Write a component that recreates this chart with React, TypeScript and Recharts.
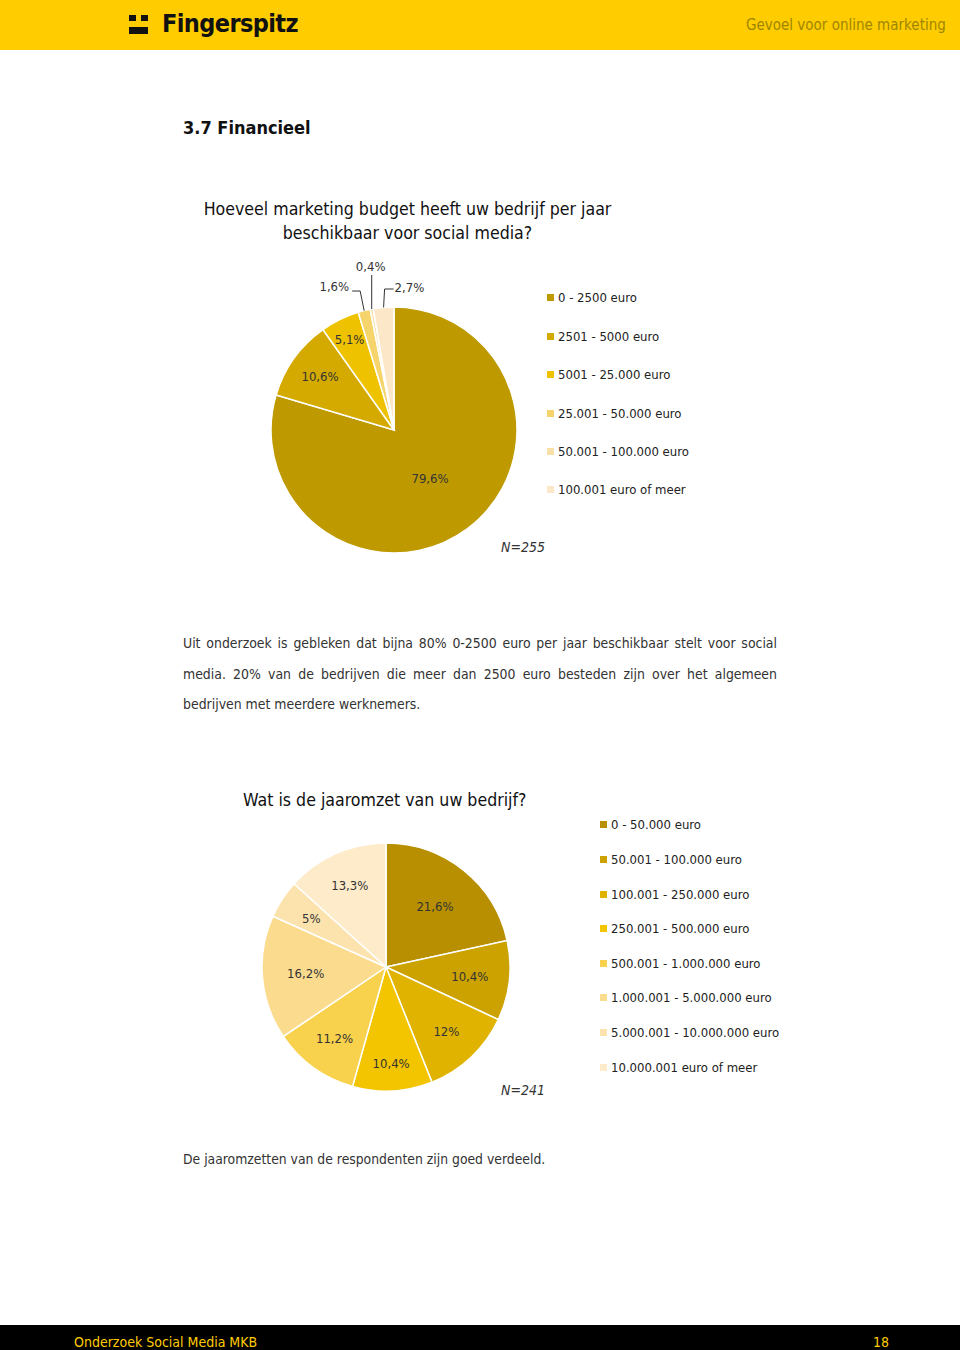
import { PieChart, Pie, Cell, Legend } from 'recharts';

// vraag 1: marketing budget social media
const budgetCategories = [
  '0 - 2500 euro',
  '2501 - 5000 euro',
  '5001 - 25.000 euro',
  '25.001 - 50.000 euro',
  '50.001 - 100.000 euro',
  '100.001 euro of meer',
];
const budgetValues = [79.6, 10.6, 5.1, 1.6, 0.4, 2.7];
const budgetColors = ['#BE9A00', '#D4AA00', '#EFC200', '#F6D46C', '#F9E0A8', '#FCE8C9'];

// vraag 2: jaaromzet
const revenueCategories = [
  '0 - 50.000 euro',
  '50.001 - 100.000 euro',
  '100.001 - 250.000 euro',
  '250.001 - 500.000 euro',
  '500.001 - 1.000.000 euro',
  '1.000.001 - 5.000.000 euro',
  '5.000.001 - 10.000.000 euro',
  '10.000.001 euro of meer',
];
const revenueValues = [21.6, 10.4, 12, 10.4, 11.2, 16.2, 5, 13.3];
const revenueColors = ['#B78F00', '#CBA200', '#DFB300', '#F2C500', '#F8D14D', '#FBDC8F', '#FCE3AE', '#FDEBC9'];
// afstand van de labels tot het midden (deel van de straal), zoals in Excel "best fit"
const revenueLabelRadius = [0.63, 0.68, 0.71, 0.78, 0.71, 0.65, 0.72, 0.72];

const FONT = "'DejaVu Sans Condensed', 'Liberation Sans Narrow', 'Roboto', sans-serif";
const RAD = Math.PI / 180;

const budgetData = budgetCategories.map((name, i) => ({ name, value: budgetValues[i], fill: budgetColors[i] }));
const revenueData = revenueCategories.map((name, i) => ({ name, value: revenueValues[i], fill: revenueColors[i] }));

const fmt = (v: number) => `${String(v).replace('.', ',')}%`;

function budgetLabel(props: any) {
  const { cx, cy, midAngle, outerRadius, value, index } = props;
  const cos = Math.cos(-midAngle * RAD);
  const sin = Math.sin(-midAngle * RAD);
  if (value >= 4) {
    const f = value > 50 ? 0.49 : index === 1 ? 0.74 : 0.82;
    return (
      <text x={cx + outerRadius * f * cos} y={cy + outerRadius * f * sin} fill="#333" fontSize={13}
        fontFamily={FONT} textAnchor="middle" dominantBaseline="central">{fmt(value)}</text>
    );
  }
  // kleine segmenten: label boven de taart met lijntje
  const ex = cx + outerRadius * cos;
  const ey = cy + outerRadius * sin;
  const topY = cy - outerRadius;
  let points: string;
  let tx: number;
  let ty: number;
  let anchor: 'start' | 'middle' | 'end';
  if (value < 1) {
    points = `${ex},${ey} ${ex},${topY - 32}`;
    tx = ex - 1;
    ty = topY - 41;
    anchor = 'middle';
  } else if (index === 3) {
    points = `${ex},${ey} ${ex - 4},${topY - 16} ${ex - 12},${topY - 16}`;
    tx = ex - 15;
    ty = topY - 21;
    anchor = 'end';
  } else {
    points = `${ex},${ey} ${ex + 1},${topY - 18} ${ex + 10},${topY - 18}`;
    tx = ex + 11;
    ty = topY - 20;
    anchor = 'start';
  }
  return (
    <g>
      <polyline points={points} fill="none" stroke="#333" strokeWidth={1} />
      <text x={tx} y={ty} fill="#333" fontSize={13} fontFamily={FONT} textAnchor={anchor}
        dominantBaseline="central">{fmt(value)}</text>
    </g>
  );
}

function revenueLabel(props: any) {
  const { cx, cy, midAngle, outerRadius, value, index } = props;
  const f = revenueLabelRadius[index] ?? 0.7;
  return (
    <text x={cx + outerRadius * f * Math.cos(-midAngle * RAD)} y={cy + outerRadius * f * Math.sin(-midAngle * RAD)}
      fill="#333" fontSize={13} fontFamily={FONT} textAnchor="middle" dominantBaseline="central">{fmt(value)}</text>
  );
}

function makeLegend(rowHeight: number, names: string[], colors: string[]) {
  return () => (
    <div style={{ fontFamily: FONT, fontSize: 13, color: '#222' }}>
      {names.map((name, i) => (
        <div key={name} style={{ height: rowHeight, display: 'flex', alignItems: 'center', whiteSpace: 'nowrap' }}>
          <span style={{ width: 7, height: 7, background: colors[i], marginRight: 4, display: 'inline-block' }} />
          <span>{name}</span>
        </div>
      ))}
    </div>
  );
}

const abs = (left: number, top: number, extra: any = {}) => ({ position: 'absolute' as const, left, top, ...extra });

export default function App() {
  return (
    <div style={{ position: 'absolute', left: 0, top: 0, width: 960, height: 1350, background: '#fff', fontFamily: FONT, overflow: 'hidden' }}>
      {/* header */}
      <div style={abs(0, 0, { width: 960, height: 50, background: '#FFCC00' })} />
      <div style={abs(129, 15, { width: 7, height: 6, background: '#111' })} />
      <div style={abs(141, 15, { width: 7, height: 6, background: '#111' })} />
      <div style={abs(129, 27, { width: 19, height: 7, background: '#111' })} />
      <div style={abs(162, 7, { fontSize: 25, fontWeight: 'bold', color: '#111', letterSpacing: -0.6, lineHeight: '34px' })}>Fingerspitz</div>
      <div style={abs(746, 13, { fontSize: 15, color: '#A08600', lineHeight: '24px' })}>Gevoel voor online marketing</div>

      <div style={abs(183, 115, { fontSize: 18, fontWeight: 'bold', color: '#111', lineHeight: '26px' })}>3.7 Financieel</div>

      <div style={abs(180, 197, { width: 455, textAlign: 'center', fontSize: 17.6, color: '#111', lineHeight: '24px' })}>
        Hoeveel marketing budget heeft uw bedrijf per jaar<br />beschikbaar voor social media?
      </div>

      <div style={abs(0, 250)}>
        <PieChart width={960} height={330}>
          <Pie data={budgetData} dataKey="value" nameKey="name" cx={389} cy={175} outerRadius={123}
            startAngle={90} endAngle={-270} stroke="#fff" strokeWidth={1.5} label={budgetLabel} labelLine={false}
            isAnimationActive={false}>
            {budgetData.map((d, i) => <Cell key={i} fill={budgetColors[i]} />)}
          </Pie>
          <Legend content={makeLegend(38.4, budgetCategories, budgetColors)}
            wrapperStyle={{ position: 'absolute', left: 547, top: 28.8, width: 200, bottom: 'auto' }} />
        </PieChart>
      </div>
      <div style={abs(501, 539, { fontSize: 14, fontStyle: 'italic', color: '#333' })}>N=255</div>

      <div style={abs(183, 628, { width: 594, textAlign: 'justify', fontSize: 13.9, color: '#333', lineHeight: '30.5px' })}>
        Uit onderzoek is gebleken dat bijna 80% 0-2500 euro per jaar beschikbaar stelt voor social media. 20% van de bedrijven die meer dan 2500 euro besteden zijn over het algemeen bedrijven met meerdere werknemers.
      </div>

      <div style={abs(243, 788, { fontSize: 17.6, color: '#111', lineHeight: '24px' })}>Wat is de jaaromzet van uw bedrijf?</div>

      <div style={abs(0, 800)}>
        <PieChart width={960} height={320}>
          <Pie data={revenueData} dataKey="value" nameKey="name" cx={381} cy={162} outerRadius={124}
            startAngle={90} endAngle={-270} stroke="#fff" strokeWidth={1.5} label={revenueLabel} labelLine={false}
            isAnimationActive={false}>
            {revenueData.map((d, i) => <Cell key={i} fill={revenueColors[i]} />)}
          </Pie>
          <Legend content={makeLegend(34.6, revenueCategories, revenueColors)}
            wrapperStyle={{ position: 'absolute', left: 600, top: 7.7, width: 220, bottom: 'auto' }} />
        </PieChart>
      </div>
      <div style={abs(501, 1082, { fontSize: 14, fontStyle: 'italic', color: '#333' })}>N=241</div>

      <div style={abs(183, 1149, { fontSize: 13.8, color: '#333', lineHeight: '20px' })}>De jaaromzetten van de respondenten zijn goed verdeeld.</div>

      {/* footer */}
      <div style={abs(0, 1325, { width: 960, height: 25, background: '#000' })} />
      <div style={abs(74, 1332, { fontSize: 14, color: '#FFCC00', lineHeight: '20px' })}>Onderzoek Social Media MKB</div>
      <div style={abs(873, 1332, { fontSize: 14, color: '#FFCC00', lineHeight: '20px' })}>18</div>
    </div>
  );
}
